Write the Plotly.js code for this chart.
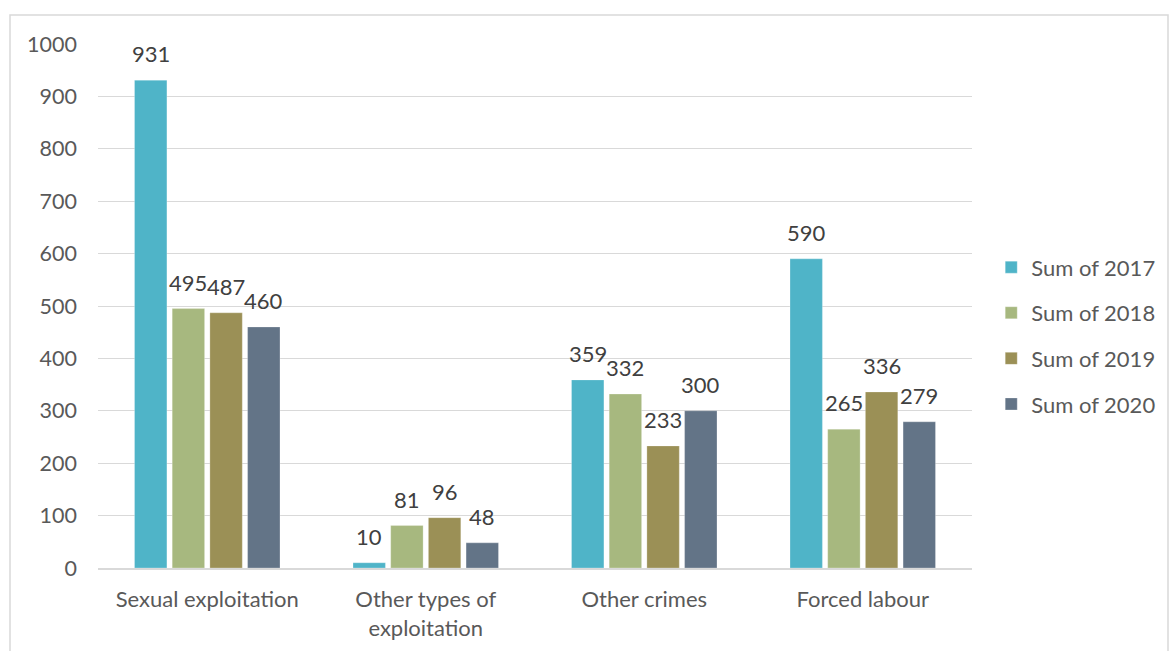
<!DOCTYPE html>
<html>
<head>
<meta charset="utf-8">
<script src="https://cdn.plot.ly/plotly-3.0.1.min.js"></script>
<style>
html,body{margin:0;padding:0;background:#fff;}
#chart{width:1169px;height:651px;}
</style>
</head>
<body>
<div id="chart"></div>
<script>
const categories = ["Sexual exploitation", "Other types of<br>exploitation", "Other crimes", "Forced labour"];
const seriesNames = ["Sum of 2017", "Sum of 2018", "Sum of 2019", "Sum of 2020"];
const values2017 = [931, 10, 359, 590];
const values2018 = [495, 81, 332, 265];
const values2019 = [487, 96, 233, 336];
const values2020 = [460, 48, 300, 279];
const yTicks = [0, 100, 200, 300, 400, 500, 600, 700, 800, 900, 1000];

const seriesValues = [values2017, values2018, values2019, values2020];
const colors = ["#4fb4c8", "#a7b87f", "#9b9056", "#637487"];
const FONT = "Lato, 'Open Sans', sans-serif";
const bargap = 0.31;
const nSeries = seriesValues.length;

const traces = seriesValues.map((vals, i) => ({
  type: "bar",
  name: seriesNames[i],
  x: categories,
  y: vals,
  legendgroup: "g" + i,
  marker: {color: colors[i], line: {color: "rgba(255,255,255,0.5)", width: 0.5}},
  hoverinfo: "x+y+name"
}));

const slot = (1 - bargap) / nSeries;
const annotations = [];
seriesValues.forEach((vals, i) => {
  vals.forEach((v, c) => {
    annotations.push({
      x: c + (i - (nSeries - 1) / 2) * slot,
      y: v,
      xref: "x", yref: "y",
      text: String(v),
      showarrow: false,
      yanchor: "bottom",
      yshift: 11,
      font: {family: FONT, size: 22, color: "#404040"}
    });
  });
});

const layout = {
  width: 1169, height: 651,
  margin: {l: 98, r: 197, t: 44, b: 83, autoexpand: false},
  paper_bgcolor: "#fff", plot_bgcolor: "#fff",
  barmode: "group",
  bargap: bargap,
  bargroupgap: 0.14,
  font: {family: FONT, size: 22, color: "#595959"},
  xaxis: {
    type: "category",
    showgrid: false,
    showline: true, linecolor: "#d9d9d9", linewidth: 1.5,
    ticks: "",
    ticklabelstandoff: 11,
    tickfont: {family: FONT, size: 22, color: "#595959"},
    fixedrange: true,
    automargin: false
  },
  yaxis: {
    range: [0, 1000],
    tickvals: yTicks,
    ticktext: yTicks.map(String),
    showgrid: true, gridcolor: "#d9d9d9", gridwidth: 1,
    zeroline: false,
    showline: false,
    ticks: "",
    ticklabelstandoff: 20,
    tickfont: {family: FONT, size: 21.5, color: "#595959"},
    fixedrange: true,
    automargin: false
  },
  showlegend: true,
  legend: {
    x: 1.022, xanchor: "left",
    y: 0.443, yanchor: "middle",
    font: {family: FONT, size: 22, color: "#595959"},
    tracegroupgap: 14,
    itemclick: false
  },
  annotations: annotations,
  shapes: [{
    type: "rect", xref: "paper", yref: "paper",
    x0: (10 - 98) / 874, x1: (1168 - 98) / 874,
    y0: (568 - 700) / 524, y1: (568 - 15) / 524,
    line: {color: "#d9d9d9", width: 1.5},
    fillcolor: "rgba(0,0,0,0)",
    layer: "below"
  }]
};

Plotly.newPlot("chart", traces, layout, {displayModeBar: false, staticPlot: false});
</script>
</body>
</html>
